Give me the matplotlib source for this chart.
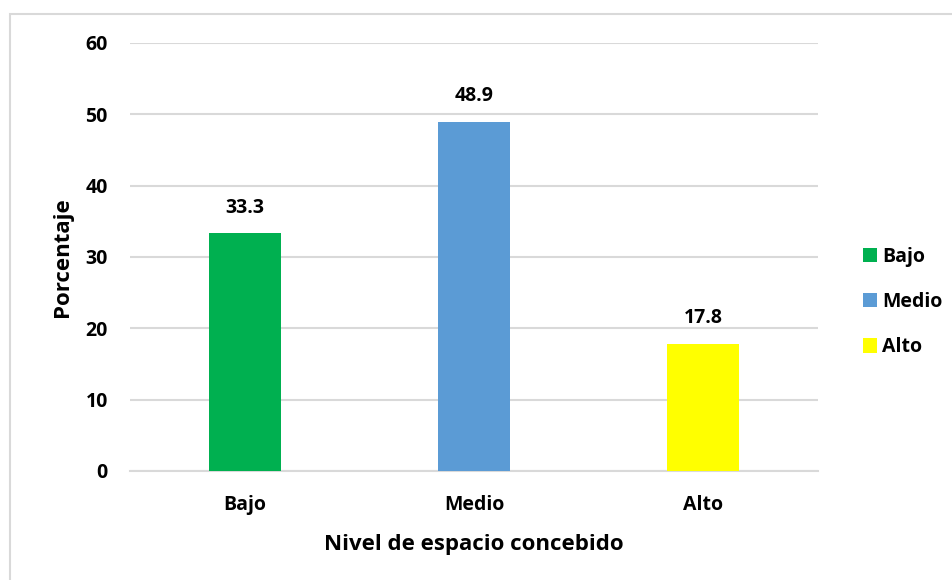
import matplotlib
matplotlib.use("Agg")
import matplotlib.pyplot as plt
from matplotlib.patches import Rectangle, Patch

categories = ["Bajo", "Medio", "Alto"]
values = [33.3, 48.9, 17.8]
colors = ["#00B050", "#5B9BD5", "#FFFF00"]
yticks = [0, 10, 20, 30, 40, 50, 60]

plt.rcParams['font.family'] = ['Open Sans', 'DejaVu Sans']
plt.rcParams['font.weight'] = 'bold'

fig = plt.figure(figsize=(9.53, 5.8), dpi=100)
fig.patches.append(Rectangle((10/953, -0.1), 1.1, (580-14)/580 + 0.1, transform=fig.transFigure,
                             fill=False, edgecolor="#D9D9D9", linewidth=1.5))
ax = fig.add_axes([130/953, 109/580, 688/953, 428/580])

x = list(range(len(categories)))
bars = ax.bar(x, values, width=0.315, color=colors, zorder=3)
for xi, v in zip(x, values):
    ax.text(xi, v + 2.2, f"{v:.1f}", ha="center", va="bottom", fontsize=14, fontweight="bold")

ax.set_xlim(-0.5, 2.5)
ax.set_ylim(0, 60)
ax.set_yticks(yticks)
ax.set_xticks(x)
ax.set_xticklabels(categories, fontsize=14, fontweight="bold")
ax.tick_params(axis='y', labelsize=14, length=0, pad=16)
ax.tick_params(axis='x', length=0, pad=17)
ax.yaxis.grid(True, color="#D9D9D9", linewidth=1.5, zorder=0)
for s in ["top", "right", "left"]:
    ax.spines[s].set_visible(False)
ax.spines["bottom"].set_color("#D9D9D9")
ax.spines["bottom"].set_linewidth(1.5)
ax.set_xlabel("Nivel de espacio concebido", fontsize=16, fontweight="bold", labelpad=14)
ax.set_ylabel("Porcentaje", fontsize=16, fontweight="bold", labelpad=9)

handles = [Patch(facecolor=c) for c in colors]
fig.legend(handles, categories, loc="center left", bbox_to_anchor=(855/953, (580-302)/580),
           frameon=False, fontsize=14, handlelength=0.75, handleheight=0.75, handletextpad=0.25,
           labelspacing=1.3, borderaxespad=0)

fig.savefig("out.png", dpi=100)
